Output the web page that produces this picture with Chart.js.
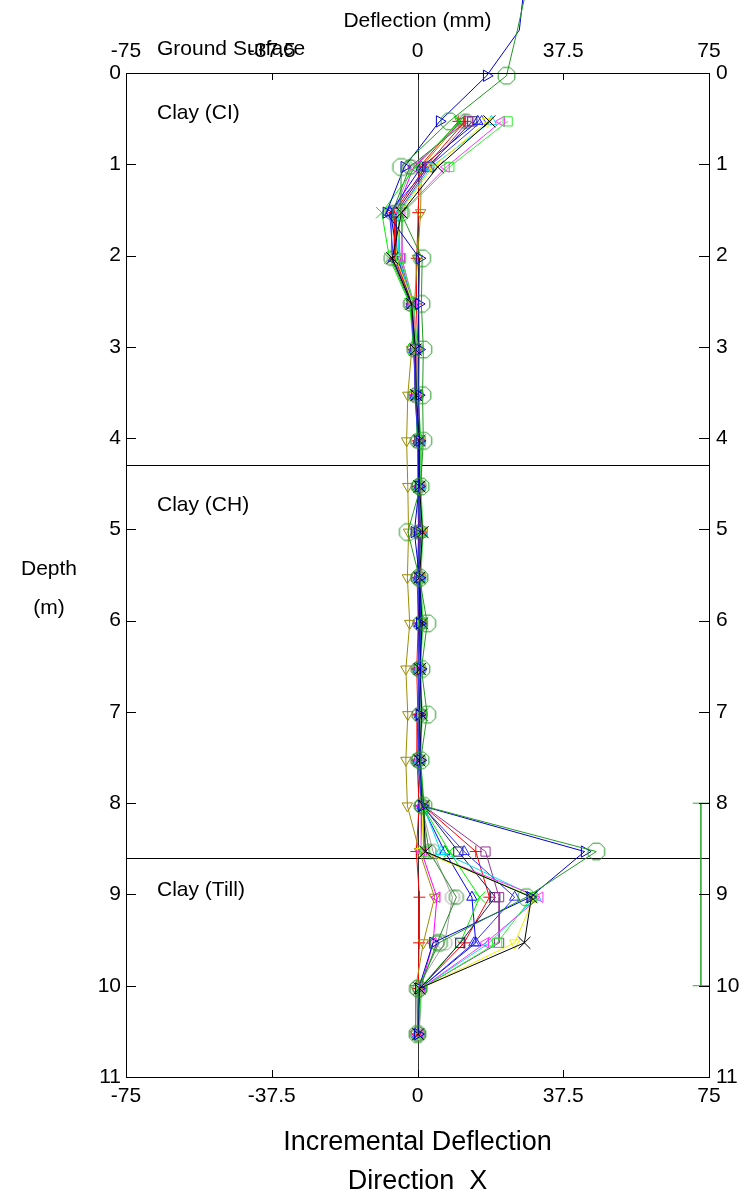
<!DOCTYPE html>
<html>
<head>
<meta charset="utf-8">
<title>Incremental Deflection</title>
<script src="https://cdn.jsdelivr.net/npm/chart.js@4.4.1/dist/chart.umd.min.js"></script>
<style>
  html, body { margin: 0; padding: 0; background: #fff; }
  #wrap { width: 753px; height: 1197px; }
</style>
</head>
<body>
<div id="wrap"><canvas id="inclChart" width="753" height="1197"></canvas></div>
<script>
// Reading depths (m) below ground surface
const depths = [0.53, 1.03, 1.53, 2.03, 2.53, 3.03, 3.53, 4.03, 4.53, 5.03, 5.53,
                6.03, 6.53, 7.03, 7.53, 8.03, 8.53, 9.03, 9.53, 10.03, 10.53];
// Extra readings above the casing top for the last two surveys
const upperDepths = [-0.97, -0.47, 0.03];

const xTicks = [-75, -37.5, 0, 37.5, 75];
const depthTicks = [0, 1, 2, 3, 4, 5, 6, 7, 8, 9, 10, 11];
const layerBreaks = [4.3, 8.6];
const layerNames = ['Clay (CI)', 'Clay (CH)', 'Clay (Till)'];
const zoneDepths = [8, 10];

// Incremental deflection per survey (mm), one value per entry in depths
const read01 = [10.5, 0.5, 0.2, -0.2, -0.3, 0.1, -0.2, 0.2, 0.0, 0.3, -0.1, 0.2, -0.2, 0.1, -0.1, 0.4, -0.3, 0.5, 0.4, 0.2, 0.0];
const read02 = [11.0, 1.0, 0.8, 0.0, -0.8, -1.5, -2.5, -2.8, -2.5, -2.3, -2.6, -2.0, -3.0, -2.5, -3.0, -2.6, 0.5, 4.4, 1.5, -0.5, -0.5];
const read03 = [11.5, -1.0, -5.5, -5.5, -1.5, -0.8, -0.6, 0.4, 0.3, 0.9, 0.2, 0.6, 0.1, 0.4, 0.0, 1.0, 1.0, 5.0, 4.0, 0.8, 0.2];
const read04 = [12.0, -1.5, -6.0, -6.0, -1.6, -0.6, -0.4, 0.2, 0.2, 0.5, 0.2, 0.6, 0.1, 0.4, 0.0, 1.0, 4.0, 9.0, 7.0, -0.3, 0.0];
const read05 = [12.6, -2.0, -6.5, -6.8, -1.8, -0.9, -0.5, 0.0, 0.3, 0.6, 0.3, 0.7, 0.3, 0.5, 0.2, 1.1, 3.0, 10.0, 5.0, 0.6, 0.1];
const read06 = [15.5, 1.0, -7.0, -5.0, -1.2, -0.7, -0.4, 0.2, 0.4, 0.4, 0.5, 0.5, 0.4, 0.6, 0.3, 1.2, 7.0, 14.0, 15.0, 0.7, 0.1];
const read07 = [10.8, -0.5, -9.2, -7.2, -2.0, -1.0, -0.5, 0.0, 0.4, 0.8, 0.3, 0.8, 0.3, 0.7, 0.2, 1.3, 8.2, 16.0, 11.0, 0.5, 0.2];
const read08 = [12.2, 2.0, -6.0, -5.8, -1.4, -0.9, -0.5, 0.3, 0.5, 0.7, 0.4, 0.9, 0.2, 0.8, 0.4, 1.5, 15.0, 18.5, 12.0, 0.6, 0.2];
const read09 = [14.1, 2.5, -5.5, -5.2, -1.5, -0.6, -0.3, 0.4, 0.6, 0.9, 0.5, 1.0, 0.5, 0.9, 0.5, 1.4, 10.5, 20.0, 11.0, 0.8, 0.3];
const read10 = [13.0, 3.0, -5.0, -4.5, -1.2, -0.4, -0.2, 0.5, 0.7, 1.0, 0.6, 1.1, 0.6, 1.0, 0.5, 1.6, 17.5, 21.0, 21.0, 0.9, 0.3];
const read11 = [16.5, 2.8, -7.2, -6.2, -1.7, -0.9, -0.6, 0.1, 0.3, 0.6, 0.2, 0.6, 0.2, 0.5, 0.1, 1.2, 12.0, 25.0, 14.5, 0.7, 0.1];
const read12 = [19.0, 3.5, -4.8, -4.8, -1.3, -0.5, -0.3, 0.6, 0.6, 1.1, 0.6, 1.0, 0.5, 0.9, 0.4, 1.5, 6.0, 30.5, 18.5, 0.9, 0.3];
const read13 = [18.0, 4.0, -4.5, -5.5, -1.1, -0.3, 0.0, 0.7, 0.8, 1.2, 0.7, 1.2, 0.7, 1.0, 0.6, 1.5, 1.0, 30.0, 25.0, 0.8, 0.2];
const read14 = [21.6, 7.4, -4.0, -4.0, -1.0, -0.2, 0.1, 0.8, 0.8, 1.3, 0.8, 1.3, 0.7, 1.2, 0.7, 1.7, 1.5, 31.5, 17.5, 1.0, 0.4];
const read15 = [23.2, 8.2, -3.8, -4.2, -0.9, 0.0, 0.2, 0.9, 0.9, 1.4, 0.9, 1.4, 0.8, 1.2, 0.8, 1.8, 2.0, 29.5, 20.5, 1.0, 0.4];
const read16 = [18.5, 5.2, -4.1, -6.5, -1.5, -0.5, -0.3, 0.5, 0.5, 1.3, 0.5, 1.2, 0.6, 1.1, 0.5, 1.6, 2.0, 29.3, 27.5, 0.5, 0.2];
// last two surveys also carry the upperDepths readings in front
const read17 = [27.5, 26.2, 17.8, 5.7, -3.4, -8.0, 0.5, 0.3, 0.4, 0.3, 0.5, 0.4, -0.8, 0.5, 0.6, 0.8, 0.5, 0.7, 1.2, 43.0, 29.0, 4.0, 0.3, 0.1];
const read18 = [28.3, 25.7, 22.9, 8.2, -4.2, -4.3, 1.2, 1.0, 1.5, 1.3, 1.5, 0.8, -2.5, 0.5, 2.5, 1.0, 2.5, 0.8, 1.5, 46.0, 28.0, 5.5, 0.2, 0.0];

// hollow octagon marker
function octagon(color, r) {
    const s = Math.ceil(r * 2 + 3);
    const c = document.createElement('canvas');
    c.width = s; c.height = s;
    const g = c.getContext('2d');
    g.strokeStyle = color;
    g.lineWidth = 1;
    g.beginPath();
    for (let i = 0; i < 8; i++) {
        const a = Math.PI / 8 + i * Math.PI / 4;
        const px = s / 2 + r * Math.cos(a), py = s / 2 + r * Math.sin(a);
        if (i === 0) g.moveTo(px, py); else g.lineTo(px, py);
    }
    g.closePath();
    g.stroke();
    return c;
}

const looks = [
    { c: '#ff0000', p: 'cross', rot: 0, r: 6 },
    { c: '#9c8c00', p: 'triangle', rot: 180, r: 6 },
    { c: '#ff00ff', p: 'triangle', rot: 270, r: 6 },
    { c: '#a0a0a0', p: 'oct', r: 7.5 },
    { c: '#2a8a2a', p: 'oct', r: 7.5 },
    { c: '#0000ff', p: 'triangle', rot: 0, r: 6 },
    { c: '#00ee00', p: 'crossRot', rot: 0, r: 8 },
    { c: '#ff0000', p: 'cross', rot: 0, r: 6 },
    { c: '#202060', p: 'rect', rot: 0, r: 6.5 },
    { c: '#993399', p: 'rect', rot: 0, r: 6.5 },
    { c: '#3333ff', p: 'triangle', rot: 0, r: 6 },
    { c: '#00e0f0', p: 'triangle', rot: 0, r: 6 },
    { c: '#f0f000', p: 'triangle', rot: 180, r: 6 },
    { c: '#ff33ff', p: 'triangle', rot: 270, r: 6 },
    { c: '#33ee33', p: 'rect', rot: 0, r: 6.5 },
    { c: '#000000', p: 'crossRot', rot: 0, r: 8.5 },
    { c: '#0000cc', p: 'triangle', rot: 90, r: 6.5 },
    { c: '#229922', p: 'oct', r: 9 }
];

const surveys = [read01, read02, read03, read04, read05, read06, read07, read08, read09,
                 read10, read11, read12, read13, read14, read15, read16, read17, read18];

const datasets = [];

surveys.forEach((vals, i) => {
    const ys = vals.length > depths.length ? upperDepths.concat(depths) : depths;
    const look = looks[i];
    datasets.push({
        data: vals.map((v, k) => ({ x: v, y: ys[k] })),
        showLine: true,
        borderColor: look.c,
        borderWidth: 1,
        pointStyle: look.p === 'oct' ? octagon(look.c, look.r) : look.p,
        pointRotation: look.rot || 0,
        pointRadius: look.r,
        pointBorderColor: look.c,
        pointBorderWidth: 1,
        pointBackgroundColor: 'rgba(0,0,0,0)',
        clip: false,
        order: 100 - i
    });
});

// zone bracket on the right edge
datasets.push({
    data: [
        { x: 70.8, y: zoneDepths[0] }, { x: 75, y: zoneDepths[0] }, { x: null, y: null },
        { x: 72.9, y: zoneDepths[0] }, { x: 72.9, y: zoneDepths[1] }, { x: null, y: null },
        { x: 70.8, y: zoneDepths[1] }, { x: 75, y: zoneDepths[1] }
    ],
    showLine: true, spanGaps: false, borderColor: '#3aaa3a', borderWidth: 1, pointRadius: 0, order: 150
});

const FONT = 'Arial, "Liberation Sans", sans-serif';

// zero line and layer boundaries, snapped to whole pixels, under the surveys
const guidePlugin = {
    id: 'guidePlugin',
    beforeDatasetsDraw(chart) {
        const { ctx, chartArea: a, scales } = chart;
        ctx.save();
        ctx.lineWidth = 1;
        ctx.strokeStyle = '#333';
        const zx = Math.round(scales.x.getPixelForValue(0)) + 0.5;
        ctx.beginPath();
        ctx.moveTo(zx, a.top); ctx.lineTo(zx, a.bottom);
        ctx.stroke();
        ctx.strokeStyle = '#000';
        ctx.beginPath();
        layerBreaks.forEach(d => {
            const py = Math.round(scales.y.getPixelForValue(d)) + 0.5;
            ctx.moveTo(a.left, py); ctx.lineTo(a.right, py);
        });
        ctx.stroke();
        ctx.restore();
    }
};

// frame, inward tick marks and free text
const framePlugin = {
    id: 'framePlugin',
    afterDraw(chart) {
        const { ctx, chartArea: a, scales } = chart;
        ctx.save();
        ctx.strokeStyle = '#000';
        ctx.lineWidth = 1;
        ctx.strokeRect(a.left + 0.5, a.top + 0.5, a.right - a.left, a.bottom - a.top);
        ctx.beginPath();
        scales.y.ticks.forEach(t => {
            const py = Math.round(scales.y.getPixelForValue(t.value)) + 0.5;
            ctx.moveTo(a.left, py); ctx.lineTo(a.left + 10, py);
            ctx.moveTo(a.right, py); ctx.lineTo(a.right - 10, py);
        });
        scales.x.ticks.forEach(t => {
            const px = Math.round(scales.x.getPixelForValue(t.value)) + 0.5;
            ctx.moveTo(px, a.bottom); ctx.lineTo(px, a.bottom - 7);
            ctx.moveTo(px, a.top); ctx.lineTo(px, a.top + 7);
        });
        ctx.stroke();

        ctx.fillStyle = '#000';
        ctx.textBaseline = 'middle';
        ctx.font = '21px ' + FONT;
        ctx.textAlign = 'center';
        const cx = scales.x.getPixelForValue(0);
        ctx.fillText('Deflection (mm)', cx, 21);
        ctx.fillText('Depth', 49, 569);
        ctx.fillText('(m)', 49, 608);

        ctx.textAlign = 'left';
        const labelX = a.left + 31;
        ctx.fillText('Ground Surface', labelX, 49);
        const labelDepths = [0.44, 4.73, 8.95];
        layerNames.forEach((name, i) => {
            ctx.fillText(name, labelX, scales.y.getPixelForValue(labelDepths[i]));
        });

        ctx.textAlign = 'center';
        ctx.font = '27px ' + FONT;
        ctx.fillText('Incremental Deflection', cx, 1143);
        ctx.fillText('Direction  X', cx, 1182);
        ctx.restore();
    }
};

const tickFont = { family: FONT, size: 21 };
const xAxis = (pos, h, pad) => ({
    type: 'linear', position: pos, min: xTicks[0], max: xTicks[xTicks.length - 1],
    afterBuildTicks: s => { s.ticks = xTicks.map(v => ({ value: v })); },
    afterFit: s => { s.height = h; },
    grid: { display: false, drawTicks: false },
    border: { display: false },
    ticks: { color: '#000', font: tickFont, padding: pad, maxRotation: 0, autoSkip: false, callback: v => String(v) }
});
const yAxis = (pos, w, pad) => ({
    type: 'linear', position: pos, reverse: true,
    min: depthTicks[0], max: depthTicks[depthTicks.length - 1],
    afterBuildTicks: s => { s.ticks = depthTicks.map(v => ({ value: v })); },
    afterFit: s => { s.width = w; },
    grid: { display: false, drawTicks: false },
    border: { display: false },
    ticks: { color: '#000', font: tickFont, padding: pad, autoSkip: false, callback: v => String(v) }
});

new Chart(document.getElementById('inclChart').getContext('2d'), {
    type: 'scatter',
    data: { datasets },
    options: {
        responsive: false,
        devicePixelRatio: 1,
        animation: false,
        events: [],
        layout: { padding: 0 },
        plugins: { legend: { display: false }, tooltip: { enabled: false } },
        scales: {
            x: xAxis('bottom', 120, 7),
            xTop: xAxis('top', 73, 9),
            y: yAxis('left', 126, 5),
            yRight: yAxis('right', 44, 7)
        }
    },
    plugins: [guidePlugin, framePlugin]
});
</script>
</body>
</html>
